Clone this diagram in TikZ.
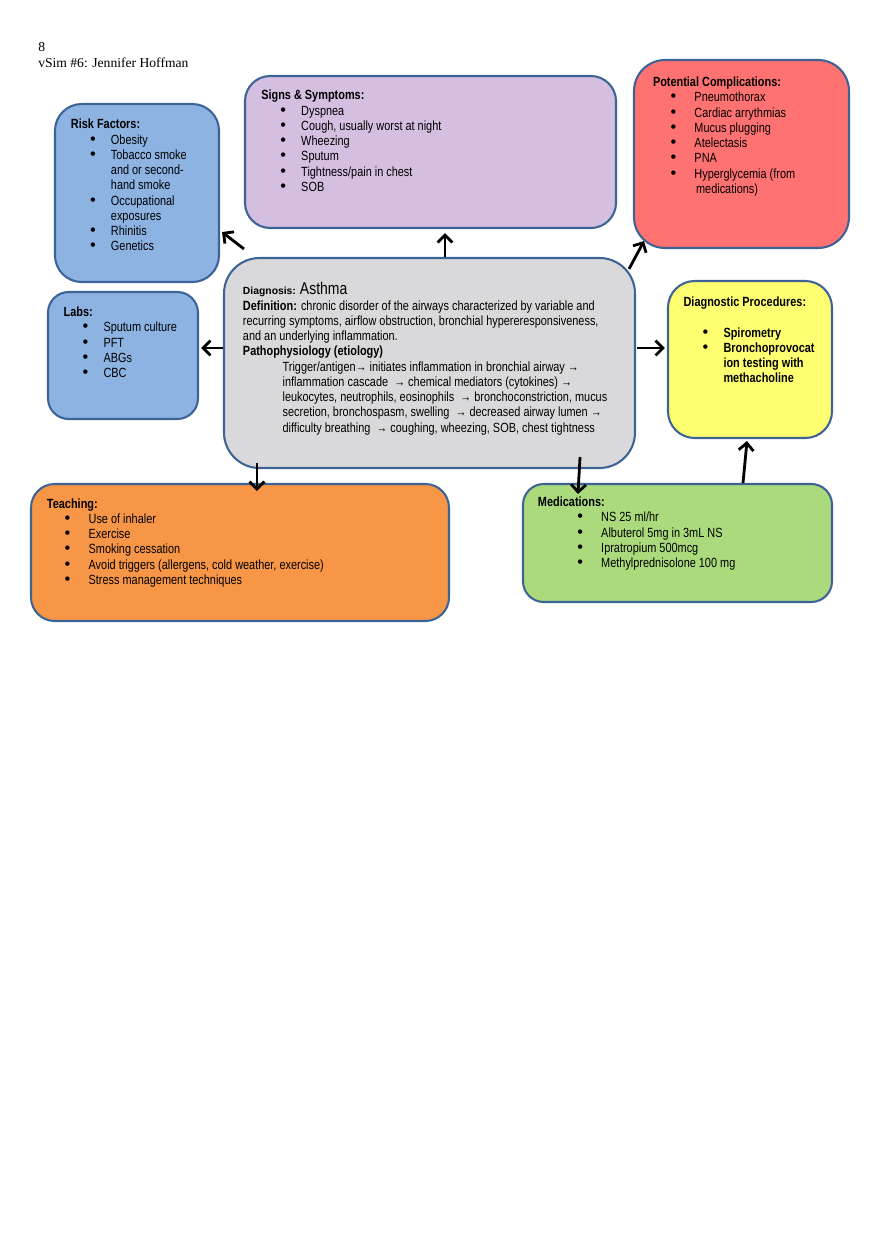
\documentclass[tikz,border=0pt]{standalone}
\usepackage{fontspec}
\setmainfont{Liberation Sans}[FakeStretch=0.82]
\newfontfamily\headfont{Liberation Serif}
\newfontfamily\widefont{Liberation Sans}
\usetikzlibrary{arrows.meta,fit}

\definecolor{boxline}{HTML}{3D6396}
\definecolor{riskblue}{HTML}{8DB3E2}
\definecolor{signpurple}{HTML}{D4BFE0}
\definecolor{complred}{HTML}{FF7272}
\definecolor{diaggray}{HTML}{D9D9DB}
\definecolor{procyellow}{HTML}{FFFF72}
\definecolor{teachorange}{HTML}{F79646}
\definecolor{medgreen}{HTML}{ABDA7C}

% bullet line and continuation line
\newcommand{\itm}[1][13.5pt]{\hspace*{#1}\makebox[13.5pt][l]{\hspace*{-0.6pt}{\widefont\fontsize{11}{10}\selectfont\textbullet}}}
\newcommand{\cnt}[1][13.5pt]{\hspace*{#1}\hspace*{13.5pt}}

\begin{document}
\begin{tikzpicture}[x=0.676pt,y=-0.676pt,
        topic box/.style={draw=boxline,line width=1.4pt,inner sep=0pt},
        box text/.style={anchor=north west,inner sep=0pt,align=left,
            font=\fontsize{9}{10.3}\selectfont},
        link/.style={-{Straight Barb[length=5pt,width=10pt]},line width=1.9pt}]

    \useasboundingbox (0,0) rectangle (880,1247);

    \node[anchor=north west,inner sep=0pt,align=left,
        font=\headfont\fontsize{9.2}{10.8}\selectfont] (head) at (38,42.5)
        {8\\vSim \#6: Jennifer Hoffman};

    % boxes
    \node[topic box,fill=riskblue,rounded corners=18pt,fit={(55,104) (219,282)}] (risk) {};
    \node[topic box,fill=signpurple,rounded corners=17pt,fit={(245,76) (616,228)}] (signs) {};
    \node[topic box,fill=complred,rounded corners=21pt,fit={(634,60) (849,248)}] (compl) {};
    \node[topic box,fill=riskblue,rounded corners=14pt,fit={(48,292) (198,419)}] (labs) {};
    \node[topic box,fill=diaggray,rounded corners=24pt,fit={(224,258) (635,468)}] (diag) {};
    \node[topic box,fill=procyellow,rounded corners=18pt,fit={(668,281) (832,438)}] (proc) {};
    \node[topic box,fill=teachorange,rounded corners=16pt,fit={(31,484) (449,621)}] (teach) {};
    \node[topic box,fill=medgreen,rounded corners=14pt,fit={(523,484) (832,602)}] (meds) {};

    % texts
    \node[box text] (risk text) at (70.7,119) {\textbf{Risk Factors:}\\
        \itm Obesity\\
        \itm Tobacco smoke\\
        \cnt and or second-\\
        \cnt hand smoke\\
        \itm Occupational\\
        \cnt exposures\\
        \itm Rhinitis\\
        \itm Genetics};

    \node[box text] (signs text) at (261,90) {\textbf{Signs \& Symptoms:}\\
        \itm Dyspnea\\
        \itm Cough, usually worst at night\\
        \itm Wheezing\\
        \itm Sputum\\
        \itm Tightness/pain in chest\\
        \itm SOB};

    \node[box text] (compl text) at (652.7,76.7) {\textbf{Potential Complications:}\\
        \itm[12.5pt] Pneumothorax\\
        \itm[12.5pt] Cardiac arrythmias\\
        \itm[12.5pt] Mucus plugging\\
        \itm[12.5pt] Atelectasis\\
        \itm[12.5pt] PNA\\
        \itm[12.5pt] Hyperglycemia (from\\
        \cnt[13.6pt] medications)};

    \node[box text] (labs text) at (63.3,306.7) {\textbf{Labs:}\\
        \itm Sputum culture\\
        \itm PFT\\
        \itm ABGs\\
        \itm CBC};

    \node[box text] (diag text) at (242.7,282.3) {{\widefont\fontsize{7}{8}\selectfont\bfseries Diagnosis:}
        {\fontsize{11.5}{12}\selectfont Asthma}\\
        \textbf{Definition:} chronic disorder of the airways characterized by variable and\\
        recurring symptoms, airflow obstruction, bronchial hypereresponsiveness,\\
        and an underlying inflammation.\\
        \textbf{Pathophysiology (etiology)}\\
        \hspace*{26.8pt}Trigger/antigen→\ initiates inflammation in bronchial airway →\\
        \hspace*{26.8pt}inflammation cascade \ → chemical mediators (cytokines) →\\
        \hspace*{26.8pt}leukocytes, neutrophils, eosinophils \ → bronchoconstriction, mucus\\
        \hspace*{26.8pt}secretion, bronchospasm, swelling \ → decreased airway lumen →\\
        \hspace*{26.8pt}difficulty breathing \ → coughing, wheezing, SOB, chest tightness};

    \node[box text] (proc text) at (683.3,296.7) {\textbf{Diagnostic Procedures:}\\[10.3pt]
        \itm\textbf{Spirometry}\\
        \itm\textbf{Bronchoprovocat}\\
        \cnt\textbf{ion testing with}\\
        \cnt\textbf{methacholine}};

    \node[box text] (teach text) at (46.7,498.3) {\textbf{Teaching:}\\
        \itm[12.6pt] Use of inhaler\\
        \itm[12.6pt] Exercise\\
        \itm[12.6pt] Smoking cessation\\
        \itm[12.6pt] Avoid triggers (allergens, cold weather, exercise)\\
        \itm[12.6pt] Stress management techniques};

    \node[box text] (meds text) at (537.7,496.7) {\textbf{Medications:}\\
        \itm[27.2pt] NS 25 ml/hr\\
        \itm[27.2pt] Albuterol 5mg in 3mL NS\\
        \itm[27.2pt] Ipratropium 500mcg\\
        \itm[27.2pt] Methylprednisolone 100 mg};

    % connectors
    \path[link]
    ([shift={(21,-8)}]diag.north west) edge ([shift={(2,39)}]risk.east)
    ([shift={(15.5,0)}]diag.north) edge ([shift={(14.5,4)}]signs.south)
    ([shift={(-7,12)}]diag.north east) edge ([shift={(11,-8)}]compl.south west)
    ([shift={(0,-15)}]diag.west) edge ([shift={(2,-7.5)}]labs.east)
    ([shift={(1,-15)}]diag.east) edge ([shift={(-2,-11.5)}]proc.west)
    ([shift={(34,-6)}]diag.south west) edge ([shift={(227,8)}]teach.north west)
    ([shift={(-56,-12)}]diag.south east) edge ([shift={(56,11)}]meds.north west)
    ([shift={(65.5,0)}]meds.north) edge ([shift={(-3,2)}]proc.south);

\end{tikzpicture}
\end{document}
